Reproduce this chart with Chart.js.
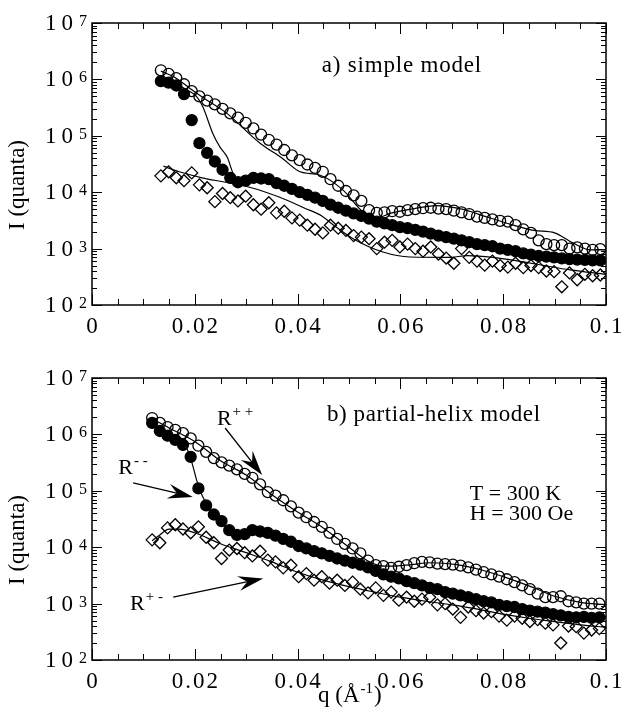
<!DOCTYPE html>
<html>
<head>
<meta charset="utf-8">
<script src="https://cdn.jsdelivr.net/npm/chart.js@4.4.1/dist/chart.umd.min.js"></script>
<style>
  body { margin: 0; background: #fff; }
  canvas { position: absolute; left: 0; }
  #panelA { top: 0; }
  #panelB { top: 361px; }
</style>
</head>
<body>
<canvas id="panelA" width="623" height="361"></canvas>
<canvas id="panelB" width="623" height="361"></canvas>
<script>
// ---- panel a) simple model ----
const qA = [0.0134, 0.0149, 0.0164, 0.0179, 0.0194, 0.0209, 0.0224, 0.0239, 0.0254, 0.0269,
  0.0284, 0.0299, 0.0314, 0.0329, 0.0344, 0.0359, 0.0374, 0.0389, 0.0404, 0.0419,
  0.0434, 0.0449, 0.0464, 0.0479, 0.0494, 0.0509, 0.0524, 0.0539, 0.0554, 0.0569,
  0.0584, 0.0599, 0.0614, 0.0629, 0.0644, 0.0659, 0.0674, 0.0689, 0.0704, 0.0719,
  0.0734, 0.0749, 0.0764, 0.0779, 0.0794, 0.0809, 0.0824, 0.0839, 0.0854, 0.0869,
  0.0884, 0.0899, 0.0914, 0.0929, 0.0944, 0.0959, 0.0974, 0.0989];
const aRpp = [1.45e6, 1.25e6, 1.05e6, 8.2e5, 6.2e5, 5.0e5, 4.2e5, 3.6e5, 3.0e5, 2.5e5,
  2.1e5, 1.7e5, 1.35e5, 1.05e5, 8.5e4, 7.0e4, 5.6e4, 4.5e4, 3.7e4, 3.1e4,
  2.7e4, 2.3e4, 1.7e4, 1.3e4, 1.05e4, 8.8e3, 7.0e3, 4.8e3, 4.3e3, 4.4e3,
  4.6e3, 4.5e3, 4.8e3, 5.0e3, 5.2e3, 5.3e3, 5.1e3, 5.0e3, 4.7e3, 4.4e3,
  4.1e3, 3.7e3, 3.5e3, 3.3e3, 3.1e3, 3.0e3, 2.6e3, 2.2e3, 1.9e3, 1.4e3,
  1.2e3, 1.15e3, 1.15e3, 1.0e3, 1.05e3, 1.0e3, 950, 980];
const aRmm = [9.3e5, 8.8e5, 7.8e5, 5.5e5, 1.9e5, 7.4e4, 5.0e4, 3.5e4, 2.5e4, 1.8e4,
  1.5e4, 1.6e4, 1.8e4, 1.75e4, 1.7e4, 1.45e4, 1.3e4, 1.15e4, 1.0e4, 9.0e3,
  8.0e3, 7.0e3, 6.0e3, 5.3e3, 4.7e3, 4.2e3, 3.8e3, 3.4e3, 3.0e3, 2.8e3,
  2.6e3, 2.4e3, 2.3e3, 2.15e3, 2.0e3, 1.85e3, 1.7e3, 1.6e3, 1.5e3, 1.4e3,
  1.3e3, 1.2e3, 1.15e3, 1.1e3, 1.0e3, 950, 900, 820, 780, 740,
  720, 700, 670, 650, 640, 630, 620, 620];
const aRpm = [1.95e4, 2.3e4, 1.8e4, 1.6e4, 2.2e4, 1.35e4, 1.2e4, 6.8e3, 9.5e3, 8.0e3,
  7.0e3, 8.5e3, 6.0e3, 5.0e3, 6.5e3, 4.3e3, 4.6e3, 3.5e3, 3.2e3, 2.6e3,
  2.2e3, 1.9e3, 2.6e3, 2.3e3, 2.1e3, 1.7e3, 1.6e3, 1.5e3, 1.0e3, 1.3e3,
  1.4e3, 1.07e3, 1.2e3, 1.0e3, 900, 1.07e3, 800, 680, 550, 1.0e3,
  700, 600, 510, 600, 500, 470, 550, 460, 500, 460,
  400, 390, 210, 370, 280, 350, 330, 340];
// model curves, panel a
const aFitPpQ = [0.0134, 0.016, 0.019, 0.022, 0.026, 0.0327, 0.037, 0.0405, 0.0444, 0.0488, 0.0527,
  0.0554, 0.058, 0.062, 0.067, 0.072, 0.077, 0.082, 0.086, 0.090, 0.0936, 0.097, 0.1];
const aFitPp = [1.4e6, 1.1e6, 7.0e5, 4.5e5, 2.6e5, 7.4e4, 4.0e4, 2.3e4, 2.0e4, 1.1e4, 4.5e3,
  3.5e3, 4.2e3, 5.0e3, 5.8e3, 5.0e3, 3.6e3, 2.6e3, 2.1e3, 1.9e3, 1.25e3, 950, 950];
const aFitMmQ = [0.0134, 0.016, 0.0185, 0.0204, 0.0216, 0.0235, 0.0249, 0.0263, 0.0274, 0.0284,
  0.031, 0.034, 0.037, 0.040, 0.045, 0.050, 0.055, 0.060, 0.065, 0.070, 0.075, 0.080, 0.085, 0.090, 0.095, 0.1];
const aFitMm = [1.0e6, 8.5e5, 6.5e5, 4.9e5, 3.2e5, 1.1e5, 6.3e4, 4.2e4, 2.2e4, 1.5e4,
  1.5e4, 1.5e4, 1.3e4, 1.0e4, 7.0e3, 4.5e3, 3.2e3, 2.4e3, 2.0e3, 1.5e3, 1.2e3, 950, 780, 700, 640, 620];
const aFitPmQ = [0.0139, 0.017, 0.0214, 0.026, 0.031, 0.0364, 0.0414, 0.0447, 0.047, 0.0508,
  0.0566, 0.0619, 0.0696, 0.073, 0.078, 0.083, 0.088, 0.093, 0.1];
const aFitPm = [2.9e4, 2.3e4, 1.8e4, 1.5e4, 1.2e4, 8.2e3, 5.2e3, 3.8e3, 2.6e3, 1.5e3,
  870, 710, 700, 750, 700, 600, 500, 420, 350];

// ---- panel b) partial-helix model ----
const qB = [0.0117, 0.0132, 0.0147, 0.0162, 0.0177, 0.0192, 0.0207, 0.0222, 0.0237, 0.0252,
  0.0267, 0.0282, 0.0297, 0.0312, 0.0327, 0.0342, 0.0357, 0.0372, 0.0387, 0.0402,
  0.0417, 0.0432, 0.0447, 0.0462, 0.0477, 0.0492, 0.0507, 0.0522, 0.0537, 0.0552,
  0.0567, 0.0582, 0.0597, 0.0612, 0.0627, 0.0642, 0.0657, 0.0672, 0.0687, 0.0702,
  0.0717, 0.0732, 0.0747, 0.0762, 0.0777, 0.0792, 0.0807, 0.0822, 0.0837, 0.0852,
  0.0867, 0.0882, 0.0897, 0.0912, 0.0927, 0.0942, 0.0957, 0.0972, 0.0987];
const bRpp = [1.95e6, 1.6e6, 1.35e6, 1.2e6, 1.05e6, 8.5e5, 6.3e5, 4.9e5, 3.8e5, 3.2e5,
  2.8e5, 2.4e5, 2.0e5, 1.7e5, 1.3e5, 9.5e4, 8.2e4, 6.8e4, 5.3e4, 4.1e4,
  3.4e4, 2.8e4, 2.3e4, 1.8e4, 1.4e4, 1.15e4, 9.5e3, 7.8e3, 5.8e3, 4.8e3,
  4.6e3, 4.3e3, 4.5e3, 4.8e3, 5.2e3, 5.5e3, 5.4e3, 5.1e3, 5.0e3, 4.9e3,
  4.7e3, 4.4e3, 4.0e3, 3.6e3, 3.3e3, 3.0e3, 2.7e3, 2.4e3, 2.1e3, 1.8e3,
  1.5e3, 1.3e3, 1.3e3, 1.35e3, 1.1e3, 1.05e3, 1.0e3, 1.0e3, 1.0e3];
const bRmm = [1.6e6, 1.15e6, 9.5e5, 8.0e5, 6.5e5, 4.0e5, 1.1e5, 5.5e4, 3.8e4, 2.9e4,
  2.0e4, 1.65e4, 1.7e4, 2.0e4, 1.9e4, 1.8e4, 1.6e4, 1.4e4, 1.25e4, 1.05e4,
  9.5e3, 8.5e3, 7.8e3, 7.0e3, 6.3e3, 5.8e3, 5.3e3, 4.9e3, 4.4e3, 3.8e3,
  3.3e3, 3.0e3, 2.8e3, 2.5e3, 2.3e3, 2.1e3, 1.9e3, 1.8e3, 1.6e3, 1.5e3,
  1.4e3, 1.3e3, 1.2e3, 1.1e3, 1.05e3, 950, 900, 870, 800, 750,
  720, 690, 650, 620, 580, 570, 580, 560, 570];
const bRpm = [1.35e4, 1.2e4, 2.2e4, 2.5e4, 2.1e4, 1.8e4, 2.3e4, 1.5e4, 1.2e4, 6.3e3,
  8.9e3, 9.5e3, 8.0e3, 7.0e3, 8.5e3, 5.9e3, 5.5e3, 4.3e3, 4.8e3, 3.0e3,
  3.4e3, 2.6e3, 3.0e3, 2.3e3, 2.6e3, 2.1e3, 2.4e3, 1.8e3, 1.55e3, 1.9e3,
  1.4e3, 1.6e3, 1.15e3, 1.3e3, 1.1e3, 1.2e3, 1.3e3, 950, 1.0e3, 800,
  570, 870, 750, 680, 720, 600, 510, 600, 550, 480,
  520, 450, 420, 200, 400, 390, 300, 340, 360];
// model curves, panel b
const bFitPpQ = [0.0117, 0.015, 0.020, 0.025, 0.030, 0.035, 0.040, 0.045, 0.050, 0.054,
  0.057, 0.061, 0.066, 0.071, 0.076, 0.081, 0.086, 0.090, 0.095, 0.1];
const bFitPp = [1.9e6, 1.3e6, 7.5e5, 3.4e5, 1.9e5, 8.5e4, 4.2e4, 2.2e4, 1.0e4, 5.5e3,
  4.6e3, 4.8e3, 5.3e3, 4.9e3, 3.9e3, 2.8e3, 1.9e3, 1.35e3, 1.05e3, 950];
const bFitMmQ = [0.0117, 0.014, 0.0165, 0.0185, 0.0195, 0.0205, 0.0215, 0.023, 0.025, 0.027,
  0.029, 0.031, 0.033, 0.036, 0.040, 0.045, 0.050, 0.055, 0.060, 0.065,
  0.070, 0.075, 0.080, 0.085, 0.090, 0.095, 0.1];
const bFitMm = [1.5e6, 1.05e6, 8.0e5, 5.5e5, 3.0e5, 1.4e5, 8.0e4, 4.5e4, 2.8e4, 1.9e4,
  1.6e4, 1.7e4, 1.75e4, 1.5e4, 1.1e4, 7.5e3, 5.3e3, 3.6e3, 2.7e3, 2.1e3,
  1.6e3, 1.25e3, 950, 800, 680, 600, 560];
const bFitPmQ = [0.0117, 0.013, 0.015, 0.017, 0.020, 0.025, 0.030, 0.035, 0.040, 0.045,
  0.050, 0.055, 0.060, 0.065, 0.070, 0.075, 0.080, 0.085, 0.090, 0.095, 0.1];
const bFitPm = [1.3e4, 1.6e4, 2.1e4, 2.1e4, 1.8e4, 1.15e4, 8.0e3, 5.5e3, 3.6e3, 2.6e3,
  2.0e3, 1.6e3, 1.3e3, 1.1e3, 950, 800, 650, 550, 480, 420, 380];

// axis ticks
const xTickValues = [0, 0.02, 0.04, 0.06, 0.08, 0.1];
const xTickLabels = ['0', '0.02', '0.04', '0.06', '0.08', '0.1'];
const yExponents = [2, 3, 4, 5, 6, 7];

const serif = '"Liberation Serif", "Times New Roman", serif';

function pts(qs, vs) {
  return qs.map((q, i) => ({x: q, y: vs[i]}));
}

function markerSet(qs, vs, style, filled) {
  return {
    data: pts(qs, vs),
    showLine: false,
    pointStyle: style,
    pointRadius: style === 'rectRot' ? 6 : 5.5,
    pointBorderWidth: 1.3,
    pointBorderColor: '#000',
    pointBackgroundColor: filled ? '#000' : 'rgba(0,0,0,0)',
    order: 0
  };
}

function fitSet(qs, vs) {
  return {
    data: pts(qs, vs),
    showLine: true,
    pointRadius: 0,
    borderColor: '#000',
    borderWidth: 1.2,
    cubicInterpolationMode: 'monotone',
    order: 1
  };
}

function supText(ctx, x, y, base, sup, baseSize, supSize, rise, spacing) {
  ctx.font = baseSize + 'px ' + serif;
  ctx.letterSpacing = spacing || '0px';
  ctx.textAlign = 'left';
  ctx.fillText(base, x, y);
  const w = ctx.measureText(base).width;
  ctx.font = supSize + 'px ' + serif;
  ctx.letterSpacing = '0px';
  ctx.fillText(sup, x + w + 1, y - rise);
  return x + w + 1 + ctx.measureText(sup).width;
}

function arrow(ctx, x0, y0, x1, y1) {
  const ang = Math.atan2(y1 - y0, x1 - x0);
  const len = 25, half = 7.5;
  ctx.beginPath();
  ctx.moveTo(x0, y0);
  ctx.lineTo(x1 - Math.cos(ang) * 12, y1 - Math.sin(ang) * 12);
  ctx.lineWidth = 1.3;
  ctx.stroke();
  ctx.save();
  ctx.translate(x1, y1);
  ctx.rotate(ang);
  ctx.beginPath();
  ctx.moveTo(0, 0);
  ctx.lineTo(-len, -half);
  ctx.lineTo(-len * 0.65, 0);
  ctx.lineTo(-len, half);
  ctx.closePath();
  ctx.fill();
  ctx.restore();
}

function decoPlugin(extra) {
  return {
    id: 'deco',
    afterDraw(chart) {
      const ctx = chart.ctx;
      const {left, right, top, bottom} = chart.chartArea;
      const xs = chart.scales.x, ys = chart.scales.y;
      ctx.save();
      ctx.strokeStyle = '#000';
      ctx.fillStyle = '#000';
      ctx.lineWidth = 1;
      const seg = (a, b, c, d) => { ctx.beginPath(); ctx.moveTo(a, b); ctx.lineTo(c, d); ctx.stroke(); };
      // x ticks, inward on bottom and top
      for (let k = 0; k <= 20; k++) {
        const px = Math.round(xs.getPixelForValue(k * 0.005)) + 0.5;
        const len = k % 4 === 0 ? 11 : 6;
        seg(px, bottom, px, bottom - len);
        seg(px, top, px, top + len);
      }
      // y ticks, log decades + minors, both sides
      yExponents.forEach(e => {
        const maxM = e === 7 ? 1 : 9;
        for (let m = 1; m <= maxM; m++) {
          const py = Math.round(ys.getPixelForValue(m * Math.pow(10, e))) + 0.5;
          const len = m === 1 ? 10 : 5;
          seg(left, py, left + len, py);
          seg(right, py, right - len, py);
        }
      });
      ctx.lineWidth = 1.5;
      ctx.strokeRect(left, top, right - left, bottom - top);

      // tick labels
      ctx.textBaseline = 'alphabetic';
      ctx.font = '23px ' + serif;
      ctx.letterSpacing = '2px';
      ctx.textAlign = 'center';
      xTickValues.forEach((v, i) => {
        ctx.fillText(xTickLabels[i], xs.getPixelForValue(v) + 1, bottom + 28);
      });
      yExponents.forEach(e => {
        const py = ys.getPixelForValue(Math.pow(10, e));
        supText(ctx, 45, py + 7, '10', String(e), 23, 16, 4, '5px');
      });

      // y title
      ctx.save();
      ctx.translate(24, (top + bottom) / 2 + 21);
      ctx.rotate(-Math.PI / 2);
      ctx.font = '23px ' + serif;
      ctx.letterSpacing = '0px';
      ctx.textAlign = 'center';
      ctx.fillText('I (quanta)', 0, 0);
      ctx.restore();

      extra(ctx, xs, ys, chart.chartArea);
      ctx.restore();
    }
  };
}

function makeChart(id, pad, datasets, extra) {
  return new Chart(document.getElementById(id), {
    type: 'scatter',
    data: {datasets},
    options: {
      responsive: false,
      animation: false,
      layout: {padding: pad},
      scales: {
        x: {type: 'linear', min: 0, max: 0.1, display: false},
        y: {type: 'logarithmic', min: 100, max: 1e7, display: false}
      },
      plugins: {legend: {display: false}, tooltip: {enabled: false}}
    },
    plugins: [decoPlugin(extra)]
  });
}

makeChart('panelA', {left: 92, right: 17, top: 23, bottom: 56}, [
  markerSet(qA, aRpp, 'circle', false),
  markerSet(qA, aRmm, 'circle', true),
  markerSet(qA, aRpm, 'rectRot', false),
  fitSet(aFitPpQ, aFitPp),
  fitSet(aFitMmQ, aFitMm),
  fitSet(aFitPmQ, aFitPm)
], (ctx, xs, ys) => {
  ctx.font = '23px ' + serif;
  ctx.letterSpacing = '0.8px';
  ctx.textAlign = 'left';
  ctx.fillText('a) simple model', xs.getPixelForValue(0.0447), ys.getPixelForValue(1.35e6));
});

makeChart('panelB', {left: 92, right: 17, top: 17, bottom: 62}, [
  markerSet(qB, bRpp, 'circle', false),
  markerSet(qB, bRmm, 'circle', true),
  markerSet(qB, bRpm, 'rectRot', false),
  fitSet(bFitPpQ, bFitPp),
  fitSet(bFitMmQ, bFitMm),
  fitSet(bFitPmQ, bFitPm)
], (ctx, xs, ys, area) => {
  const X = v => xs.getPixelForValue(v), Y = v => ys.getPixelForValue(v);
  ctx.font = '23px ' + serif;
  ctx.letterSpacing = '0.6px';
  ctx.textAlign = 'left';
  ctx.fillText('b) partial-helix model', X(0.0457), Y(1.73e6));
  ctx.font = '22px ' + serif;
  ctx.letterSpacing = '0px';
  ctx.fillText('T = 300 K', X(0.0735), Y(6.9e4));
  ctx.fillText('H = 300 Oe', X(0.0735), Y(3.0e4));
  // series labels with arrows
  supText(ctx, X(0.0243), Y(1.47e6), 'R', '+ +', 22, 15, 9);
  arrow(ctx, X(0.0259), Y(1.3e6), X(0.0331), Y(1.9e5));
  supText(ctx, X(0.0051), Y(2.0e5), 'R', '- -', 22, 15, 9);
  arrow(ctx, X(0.0080), Y(1.38e5), X(0.0196), Y(7.8e4));
  supText(ctx, X(0.0074), Y(770), 'R', '+ -', 22, 15, 9);
  arrow(ctx, X(0.0158), Y(1.3e3), X(0.0333), Y(2.8e3));
  // x title
  const x0 = 318, y0 = area.bottom + 42;
  ctx.font = '23px ' + serif;
  ctx.fillText('q (\u00C5', x0, y0);
  let w = ctx.measureText('q (\u00C5').width;
  ctx.font = '15px ' + serif;
  ctx.fillText('-1', x0 + w + 1, y0 - 9);
  const w2 = ctx.measureText('-1').width;
  ctx.font = '23px ' + serif;
  ctx.fillText(')', x0 + w + w2 + 2, y0);
});
</script>
</body>
</html>
